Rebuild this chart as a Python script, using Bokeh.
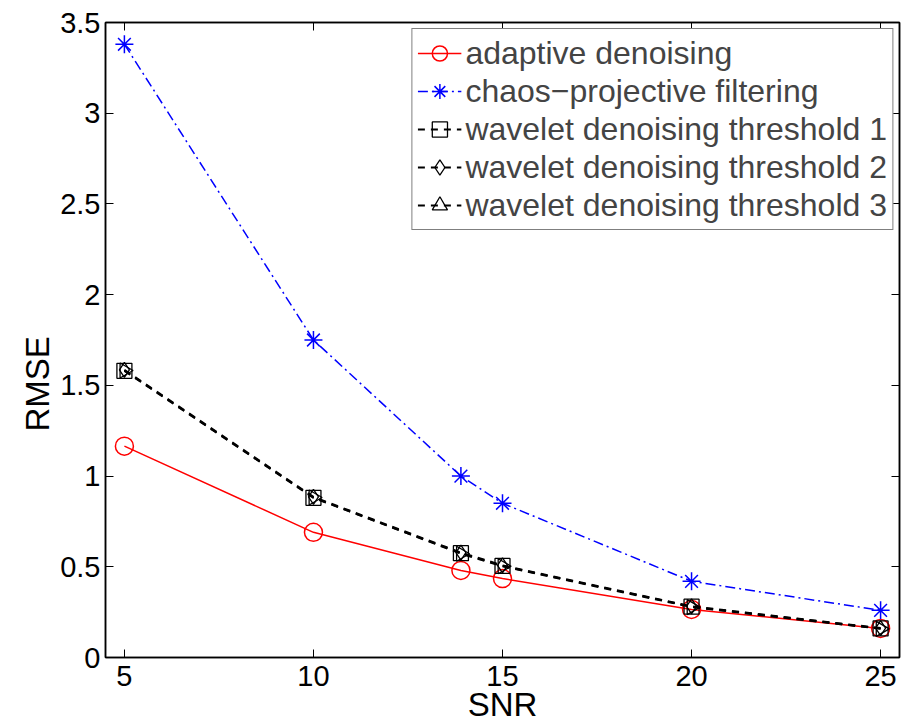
import numpy as np
from bokeh.plotting import figure
from bokeh.models import (FixedTicker, LinearAxis, Legend, LegendItem, Range1d, Title)
from bokeh.embed import file_html
from bokeh.resources import INLINE

# SNR levels and RMSE of each denoising method
snr = [5, 10, 13.9, 15, 20, 25]
adaptive = [1.165, 0.69, 0.48, 0.435, 0.265, 0.16]
chaos_projective = [3.38, 1.75, 1.0, 0.85, 0.42, 0.26]
wavelet_t1 = [1.58, 0.88, 0.575, 0.505, 0.28, 0.16]
wavelet_t2 = [1.585, 0.885, 0.578, 0.508, 0.282, 0.162]
wavelet_t3 = [1.582, 0.882, 0.572, 0.503, 0.278, 0.158]

x_ticks = [5, 10, 15, 20, 25]
y_ticks = [0, 0.5, 1, 1.5, 2, 2.5, 3, 3.5]
y_tick_labels = ["0", "0.5", "1", "1.5", "2", "2.5", "3", "3.5"]

FONT = "Liberation Sans"
FS = "29px"
LABEL_FS = "33px"

p = figure(width=902, height=725, output_backend="svg", toolbar_location=None,
           x_range=Range1d(4.5, 25.5), y_range=Range1d(0, 3.5),
           min_border_left=105, min_border_right=3, min_border_top=22,
           min_border_bottom=67)
p.background_fill_color = "white"
p.border_fill_color = "white"
p.grid.visible = False
p.outline_line_color = "black"
p.outline_line_width = 1.5

for ax in p.xaxis + p.yaxis:
    ax.major_tick_in = 8
    ax.major_tick_out = 0
    ax.minor_tick_in = 0
    ax.minor_tick_out = 0
    ax.axis_line_color = "black"
    ax.axis_line_width = 1.5
    ax.major_label_text_font = FONT
    ax.major_label_text_font_size = FS
    ax.major_label_text_color = "black"
    ax.axis_label_text_font = FONT
    ax.axis_label_text_font_size = LABEL_FS
    ax.axis_label_text_font_style = "normal"
    ax.axis_label_text_color = "black"

p.xaxis.ticker = FixedTicker(ticks=x_ticks)
p.yaxis.ticker = FixedTicker(ticks=y_ticks)
p.yaxis.major_label_overrides = {t: s for t, s in zip(y_ticks, y_tick_labels)}
p.xaxis.axis_label = "SNR"
p.xaxis.major_label_standoff = 8
p.xaxis.axis_label_standoff = -3
p.yaxis.major_label_standoff = 5

# y-axis title, starting a little below the middle of the axis
p.add_layout(Title(text="RMSE", align="left", offset=226, standoff=4,
                   text_font=FONT, text_font_size=LABEL_FS,
                   text_font_style="normal", text_color="black"), "left")

# box-style ticks on the top and right edges
top = LinearAxis(ticker=FixedTicker(ticks=x_ticks), major_tick_in=8, major_tick_out=0,
                 minor_tick_in=0, minor_tick_out=0, major_label_text_font_size="0px",
                 axis_line_color="black", axis_line_width=1.5)
right = LinearAxis(ticker=FixedTicker(ticks=y_ticks), major_tick_in=8, major_tick_out=0,
                   minor_tick_in=0, minor_tick_out=0, major_label_text_font_size="0px",
                   axis_line_color="black", axis_line_width=1.5)
p.add_layout(top, "above")
p.add_layout(right, "right")

items = []

l1 = p.line(snr, adaptive, line_color="red", line_width=1.5)
m1 = p.scatter(snr, adaptive, marker="circle", size=18, fill_color=None,
               line_color="red", line_width=1.5)
items.append(LegendItem(label="adaptive denoising", renderers=[l1, m1]))

l2 = p.line(snr, chaos_projective, line_color="blue", line_width=1.5,
            line_dash="10 4 2 4")
m2 = p.scatter(snr, chaos_projective, marker="asterisk", size=18,
               line_color="blue", line_width=1.5)
items.append(LegendItem(label="chaos\u2212projective filtering", renderers=[l2, m2]))

for vals, mk, ang, label in [
    (wavelet_t1, "square", 0.0, "wavelet denoising threshold 1"),
    (wavelet_t2, "diamond", 0.0, "wavelet denoising threshold 2"),
    (wavelet_t3, "triangle", -np.pi / 2, "wavelet denoising threshold 3"),
]:
    ln = p.line(snr, vals, line_color="black", line_width=2, line_dash="7 6")
    mr = p.scatter(snr, vals, marker=mk, size=15, angle=ang, fill_color=None,
                   line_color="black", line_width=1.3)
    items.append(LegendItem(label=label, renderers=[ln, mr]))

legend = Legend(items=items, location="top_right", margin=6, padding=5, spacing=0,
                glyph_width=44, glyph_height=38, label_height=38, label_standoff=4,
                label_text_font=FONT, label_text_font_size="32px",
                border_line_color="black", border_line_width=1.5,
                background_fill_color="white", background_fill_alpha=1.0)
p.add_layout(legend, "center")

open("out.html", "w").write(file_html(p, INLINE))
